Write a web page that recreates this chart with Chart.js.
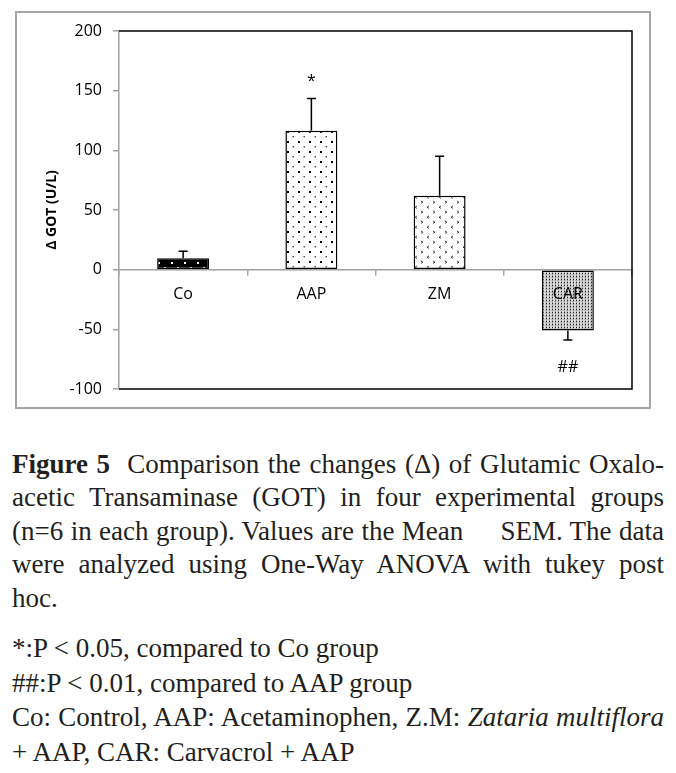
<!DOCTYPE html>
<html>
<head>
<meta charset="utf-8">
<script src="https://cdn.jsdelivr.net/npm/chart.js@4.4.1/dist/chart.umd.min.js"></script>
<style>
  html, body { margin:0; padding:0; background:#fff; width:676px; height:773px; overflow:hidden; }
  #frame { position:absolute; left:15px; top:11px; width:636px; height:398px; border:2px solid #a6a6a6; box-sizing:border-box; }
  #wrap { position:absolute; left:0; top:0; width:676px; height:420px; }
  .cap { position:absolute; left:12px; width:652px; font-family:"Liberation Serif","DejaVu Serif",serif; font-size:27px; color:#231f20; line-height:33.4px; }
  .j { text-align:justify; text-align-last:justify; white-space:nowrap; }
  .l { text-align:left; white-space:nowrap; }
</style>
</head>
<body>
<div id="frame"></div>
<div id="wrap"><canvas id="c" width="676" height="420"></canvas></div>

<div class="cap" style="top:448px;">
  <div class="j"><b>Figure 5</b>&nbsp; Comparison the changes (Δ) of Glutamic Oxalo-</div>
  <div class="j">acetic Transaminase (GOT) in four experimental groups</div>
  <div class="j">(n=6 in each group). Values are the Mean &nbsp;&nbsp;&nbsp;&nbsp;SEM. The data</div>
  <div class="j">were analyzed using One-Way ANOVA with tukey post</div>
  <div class="l">hoc.</div>
</div>
<div class="cap" style="top:631px; line-height:34.5px;">
  <div class="l">*:P &lt; 0.05, compared to Co group</div>
  <div class="l">##:P &lt; 0.01, compared to AAP group</div>
  <div class="j">Co: Control, AAP: Acetaminophen, Z.M: <i>Zataria multiflora</i></div>
  <div class="l">+ AAP, CAR: Carvacrol + AAP</div>
</div>

<script>
const categories = ['Co', 'AAP', 'ZM', 'CAR'];
const meanValues = [9.5, 116.5, 62, -51];
const semValues = [6, 27, 33, 8];
const significanceLabels = ['', '*', '', '##'];
const yTicks = [-100, -50, 0, 50, 100, 150, 200];

function makePattern(kind) {
  const p = document.createElement('canvas');
  const ctx = p.getContext('2d');
  if (kind === 'black') {
    p.width = 13; p.height = 10;
    ctx.fillStyle = '#000'; ctx.fillRect(0, 0, 13, 10);
    ctx.fillStyle = '#fff';
    ctx.fillRect(2, 2, 2, 2);
    ctx.fillRect(8, 7, 2, 2);
  } else if (kind === 'dots') {
    p.width = 11; p.height = 10;
    ctx.fillStyle = '#fff'; ctx.fillRect(0, 0, 11, 10);
    ctx.fillStyle = '#000';
    ctx.fillRect(1, 1, 2, 2);
    ctx.fillStyle = '#555';
    ctx.fillRect(6.5, 6, 1.5, 1.5);
  } else if (kind === 'chevron') {
    p.width = 12; p.height = 10;
    ctx.fillStyle = '#fff'; ctx.fillRect(0, 0, 12, 10);
    ctx.strokeStyle = '#333'; ctx.lineWidth = 0.9;
    ctx.beginPath();
    ctx.moveTo(1, 1); ctx.lineTo(3, 2.2); ctx.lineTo(1, 3.4);
    ctx.moveTo(9, 6); ctx.lineTo(7, 7.2); ctx.lineTo(9, 8.4);
    ctx.stroke();
  } else {
    p.width = 3; p.height = 3;
    ctx.fillStyle = '#dcdcdc'; ctx.fillRect(0, 0, 3, 3);
    ctx.fillStyle = '#222';
    ctx.fillRect(0, 0, 1, 1);
    ctx.fillStyle = '#666';
    ctx.fillRect(0, 1.5, 1, 1);
    ctx.fillStyle = '#aaa';
    ctx.fillRect(1.8, 0.8, 1, 1);
  }
  return document.getElementById('c').getContext('2d').createPattern(p, 'repeat');
}

const barFills = [makePattern('black'), makePattern('dots'), makePattern('chevron'), makePattern('fine')];

const errorBarPlugin = {
  id: 'errorBars',
  afterDatasetsDraw(chart) {
    const ctx = chart.ctx;
    const yScale = chart.scales.y;
    const meta = chart.getDatasetMeta(0);
    ctx.save();
    ctx.strokeStyle = '#000';
    ctx.lineWidth = 1.5;
    meta.data.forEach((bar, i) => {
      const m = meanValues[i];
      const end = m + Math.sign(m) * semValues[i];
      const yBar = yScale.getPixelForValue(m);
      const yEnd = yScale.getPixelForValue(end);
      ctx.beginPath();
      ctx.moveTo(bar.x, yBar);
      ctx.lineTo(bar.x, yEnd);
      ctx.moveTo(bar.x - 4.5, yEnd);
      ctx.lineTo(bar.x + 4.5, yEnd);
      ctx.stroke();
      const lbl = significanceLabels[i];
      if (lbl) {
        ctx.fillStyle = '#000';
        ctx.font = '16px "Open Sans", sans-serif';
        ctx.textAlign = 'center';
        ctx.textBaseline = 'middle';
        const yLbl = m >= 0 ? yEnd - 17 : yEnd + 27;
        ctx.fillText(lbl, bar.x, yLbl);
      }
    });
    ctx.restore();
  }
};

const borderPlugin = {
  id: 'plotBorder',
  beforeDatasetsDraw(chart) {
    const {ctx, chartArea: a} = chart;
    ctx.save();
    ctx.strokeStyle = '#000';
    ctx.lineWidth = 1.5;
    ctx.beginPath();
    ctx.moveTo(a.left, a.top);
    ctx.lineTo(a.right, a.top);
    ctx.lineTo(a.right, a.bottom);
    ctx.lineTo(a.left, a.bottom);
    ctx.stroke();
    ctx.restore();
  }
};

new Chart(document.getElementById('c'), {
  type: 'bar',
  data: {
    labels: categories,
    datasets: [{
      data: meanValues,
      backgroundColor: barFills,
      borderColor: '#000',
      borderWidth: 1.5,
      borderSkipped: false,
      barPercentage: 0.405,
      categoryPercentage: 1.0
    }]
  },
  options: {
    responsive: false,
    animation: false,
    events: [],
    layout: { padding: { left: 0, top: 31, right: 44, bottom: 31 } },
    plugins: { legend: { display: false }, tooltip: { enabled: false } },
    scales: {
      x: {
        type: 'category',
        position: { y: 0 },
        offset: true,
        afterFit(s) { s.height = 0; },
        grid: { display: true, drawOnChartArea: false, drawTicks: true, tickLength: 5, offset: true, color: '#a0a0a0', lineWidth: 1.5 },
        border: { display: true, color: '#a0a0a0', width: 1.5 },
        ticks: { z: 1, color: '#000', font: { family: '"Open Sans", sans-serif', size: 16 }, padding: 10 }
      },
      y: {
        min: -100,
        max: 200,
        afterFit(s) { s.width = 119; },
        afterBuildTicks(s) { s.ticks = yTicks.map(v => ({ value: v })); },
        grid: { display: true, drawOnChartArea: false, drawTicks: true, tickLength: 6, color: '#a0a0a0', lineWidth: 1.5 },
        border: { display: true, color: '#a0a0a0', width: 1.5 },
        ticks: { color: '#000', font: { family: '"Open Sans", sans-serif', size: 16 }, padding: 11 },
        title: { display: true, text: 'Δ GOT (U/L)', color: '#000', font: { family: '"Open Sans", sans-serif', size: 14, weight: 'bold' }, padding: { top: 44, bottom: 0 } }
      }
    }
  },
  plugins: [borderPlugin, errorBarPlugin]
});
</script>
</body>
</html>
